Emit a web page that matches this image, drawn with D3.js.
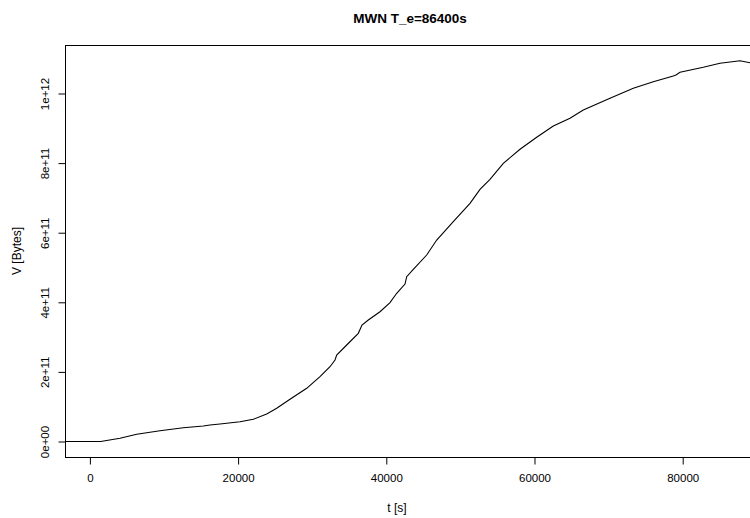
<!DOCTYPE html>
<meta charset="utf-8">
<style>
body { margin: 0; background: #fff; }
text { font-family: "Liberation Sans", Arial, sans-serif; fill: #000; }
.curve { fill: none; stroke: #000; stroke-width: 1.1px; }
</style>
<svg width="750" height="518"></svg>
<script src="https://cdn.jsdelivr.net/npm/d3@7"></script>
<script>

var times = [-3400, 1457, 4062, 6316, 9460, 12605, 15304, 16208, 17557, 20256, 22051, 23860,
  25209, 27004, 29258, 31053, 32402, 33077, 33306, 34656, 36221, 36721, 37571, 39150, 40499,
  41404, 42524, 42753, 43644, 45452, 46802, 49042, 51296, 52645, 53995, 55790, 58044, 60297,
  62537, 64791, 66586, 70189, 73334, 76032, 78731, 79096, 79636, 82780, 85034, 87733, 89083, 90500];
var volumes = [0, 0, 0.92e10, 2.07e10, 3.10e10, 3.97e10, 4.45e10, 4.74e10, 5.03e10, 5.69e10, 6.38e10, 7.90e10,
  9.54e10, 1.213e11, 1.529e11, 1.862e11, 2.149e11, 2.342e11, 2.486e11, 2.773e11, 3.109e11, 3.348e11, 3.491e11, 3.730e11, 3.989e11,
  4.259e11, 4.526e11, 4.736e11, 4.948e11, 5.359e11, 5.790e11, 6.316e11, 6.845e11, 7.247e11, 7.535e11, 7.994e11, 8.397e11, 8.742e11,
  9.066e11, 9.288e11, 9.526e11, 9.862e11, 1.0150e12, 1.0339e12, 1.0503e12, 1.0532e12, 1.0609e12, 1.0753e12, 1.0868e12, 1.0943e12, 1.0885e12, 1.082e12];

var xTicks = [0, 20000, 40000, 60000, 80000];
var yTicks = [0, 2e11, 4e11, 6e11, 8e11, 1e12];
var yTickLabels = ["0e+00", "2e+11", "4e+11", "6e+11", "8e+11", "1e+12"];

var svg = d3.select("svg"),
    pLeft = 65, pRight = 760, pTop = 45, pBottom = 457;

var x = d3.scaleLinear().domain([-3360, 90432]).range([pLeft, pRight]);
var y = d3.scaleLinear().domain([-4.454e10, 1.1394e12]).range([pBottom, pTop]);

svg.append("clipPath").attr("id", "clip")
  .append("rect").attr("x", pLeft).attr("y", pTop)
  .attr("width", pRight - pLeft).attr("height", pBottom - pTop);

var pts = times.map(function(t, i) { return [t, volumes[i]]; });

svg.append("path")
    .datum(pts)
    .attr("class", "curve")
    .attr("clip-path", "url(#clip)")
    .attr("d", d3.line().x(function(d) { return x(d[0]); }).y(function(d) { return y(d[1]); }));

// box
svg.append("rect")
    .attr("x", pLeft + 0.5).attr("y", pTop + 0.5)
    .attr("width", pRight - pLeft).attr("height", pBottom - pTop)
    .attr("fill", "none").attr("stroke", "#000").attr("stroke-width", 1);

// x axis
var xAxis = svg.append("g").attr("transform", "translate(0," + (pBottom + 0.5) + ")")
  .call(d3.axisBottom(x).tickValues(xTicks).tickFormat(d3.format("d")).tickSize(7).tickPadding(9));
xAxis.select(".domain").remove();
xAxis.selectAll("text").style("font-size", "11.5px").attr("font-family", null);

// y axis
var yAxis = svg.append("g").attr("transform", "translate(" + (pLeft + 0.5) + ",0)")
  .call(d3.axisLeft(y).tickValues(yTicks).tickFormat(function(d, i) { return yTickLabels[i]; }).tickSize(7).tickSizeOuter(0));
yAxis.select(".domain").remove();
yAxis.selectAll("text")
    .style("font-size", "11.5px").attr("font-family", null)
    .attr("x", 0).attr("y", 0).attr("dy", null)
    .attr("text-anchor", "middle")
    .attr("transform", "translate(-17,0) rotate(-90)");

svg.append("text")
    .attr("x", 410).attr("y", 22.5)
    .attr("text-anchor", "middle")
    .style("font-size", "13.5px").style("font-weight", "bold")
    .text("MWN T_e=86400s");

svg.append("text")
    .attr("x", 397).attr("y", 511.5)
    .attr("text-anchor", "middle")
    .style("font-size", "12px")
    .text("t [s]");

svg.append("text")
    .attr("transform", "translate(21,251) rotate(-90)")
    .attr("text-anchor", "middle")
    .style("font-size", "12px")
    .text("V [Bytes]");

</script>
